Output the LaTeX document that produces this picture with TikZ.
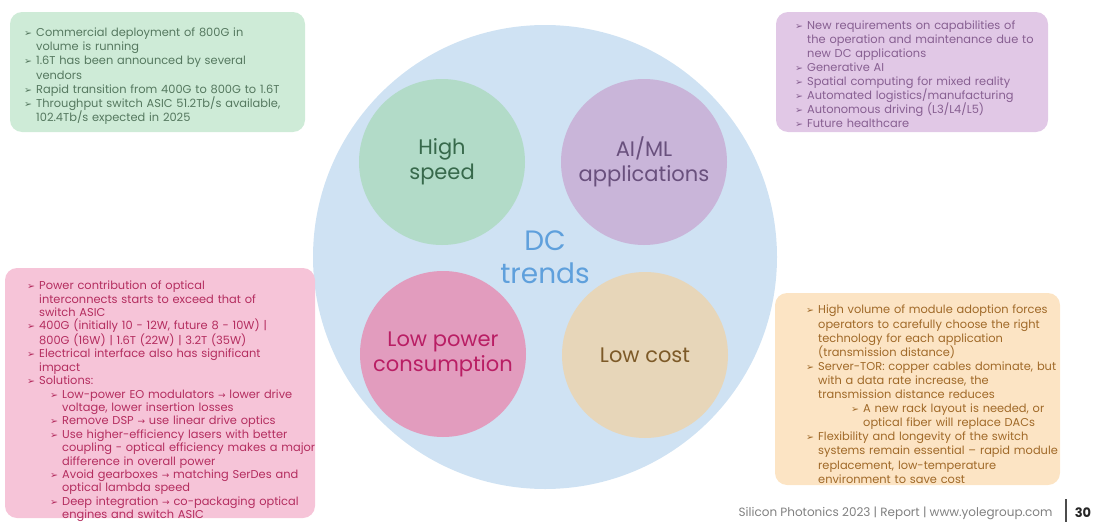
\documentclass[tikz,border=0pt]{standalone}
\usepackage{fontspec}
\setmainfont{Poppins}
\newfontfamily\symf{DejaVu Sans}

\definecolor{dcblue}{RGB}{207,226,243}
\definecolor{dctext}{RGB}{95,160,220}
\definecolor{spdfill}{RGB}{178,219,200}
\definecolor{spdtext}{RGB}{55,105,75}
\definecolor{aifill}{RGB}{201,181,217}
\definecolor{aitext}{RGB}{105,80,125}
\definecolor{pwrfill}{RGB}{226,156,190}
\definecolor{pwrtext}{RGB}{185,30,100}
\definecolor{costfill}{RGB}{231,214,185}
\definecolor{costtext}{RGB}{125,90,40}
\definecolor{spdbox}{RGB}{206,235,215}
\definecolor{spdboxtext}{RGB}{85,120,95}
\definecolor{aibox}{RGB}{225,200,230}
\definecolor{aiboxtext}{RGB}{135,95,145}
\definecolor{pwrbox}{RGB}{246,196,216}
\definecolor{pwrboxtext}{RGB}{180,45,95}
\definecolor{costbox}{RGB}{252,228,196}
\definecolor{costboxtext}{RGB}{160,105,40}

\newcommand\arr{{\symf\fontsize{9}{9}\selectfont →}}
\newcommand\bul[1]{\par\hangindent=12pt\hangafter=1\noindent
  \makebox[12pt][l]{\symf\fontsize{9.5}{9.5}\selectfont ➢}#1}
\newcommand\subbul[2]{\par\hangindent=#1\hangafter=0\noindent\hskip-12pt
  \makebox[12pt][l]{\symf\fontsize{9.5}{9.5}\selectfont ➢}#2}

\tikzset{
  trend/.style={circle, inner sep=0pt, minimum size=166pt, align=center,
    font=\fontsize{21}{25}\selectfont},
  infobox/.style={rounded corners=12pt, inner sep=0pt},
  infotext/.style={anchor=west, inner sep=0pt, text width=330pt, align=left,
    font=\fontsize{11.4}{14.1}\selectfont},
}

\begin{document}
\begin{tikzpicture}[x=1pt,y=-1pt]
  \useasboundingbox (0,0) rectangle (1093,522);

  \node[circle, fill=dcblue, minimum size=464pt, align=center, text=dctext,
    font=\fontsize{28}{33}\selectfont] (dc) at (545,257) {DC\\trends};

  \node[trend, fill=spdfill, text=spdtext] (speed) at (442,162) {High\\speed};
  \node[trend, fill=aifill, text=aitext] (aiml) at (644,162) {AI/ML\\applications};
  \node[trend, fill=pwrfill, text=pwrtext] (power) at (443,354) {Low power\\consumption};
  \node[trend, fill=costfill, text=costtext] (cost) at (645,355) {Low cost};

  \node[infobox, fill=spdbox, minimum width=295pt, minimum height=120pt] (speedbox) at (157.5,72) {};
  \node[infotext, text=spdboxtext] (speedtxt) at (24,73.5) {%
    \bul{Commercial deployment of 800G in\break volume is running}
    \bul{1.6T has been announced by several\break vendors}
    \bul{Rapid transition from 400G to 800G to 1.6T}
    \bul{Throughput switch ASIC 51.2Tb/s available,\break 102.4Tb/s expected in 2025}\par};

  \node[infobox, fill=aibox, minimum width=272pt, minimum height=120pt] (aimlbox) at (912,72) {};
  \node[infotext, text=aiboxtext] (aimltxt) at (795,71.5) {%
    \bul{New requirements on capabilities of\break the operation and maintenance due to\break new DC applications}
    \bul{Generative AI}
    \bul{Spatial computing for mixed reality}
    \bul{Automated logistics/manufacturing}
    \bul{Autonomous driving (L3/L4/L5)}
    \bul{Future healthcare}\par};

  \node[infobox, fill=pwrbox, minimum width=310pt, minimum height=250pt] (powerbox) at (160,393) {};
  \node[infotext, text=pwrboxtext, font=\fontsize{11.4}{13.4}\selectfont] (powertxt) at (27,399) {%
    \bul{Power contribution of optical\break interconnects starts to exceed that of\break switch ASIC}
    \bul{400G (initially 10 - 12W, future 8 - 10W) |\break 800G (16W) | 1.6T (22W) | 3.2T (35W)}
    \bul{Electrical interface also has significant\break impact}
    \bul{Solutions:}
    \subbul{35pt}{Low-power EO modulators \arr\ lower drive\break voltage, lower insertion losses}
    \subbul{35pt}{Remove DSP \arr\ use linear drive optics}
    \subbul{35pt}{Use higher-efficiency lasers with better\break coupling - optical efficiency makes a major\break difference in overall power}
    \subbul{35pt}{Avoid gearboxes \arr\ matching SerDes and\break optical lambda speed}
    \subbul{35pt}{Deep integration \arr\ co-packaging optical\break engines and switch ASIC}\par};

  \node[infobox, fill=costbox, minimum width=285pt, minimum height=192pt] (costbox) at (917.5,389) {};
  \node[infotext, text=costboxtext] (costtxt) at (806,391.5) {%
    \bul{High volume of module adoption forces\break operators to carefully choose the right\break technology for each application\break (transmission distance)}
    \bul{Server-TOR: copper cables dominate, but\break with a data rate increase, the\break transmission distance reduces}
    \subbul{57pt}{A new rack layout is needed, or\break optical fiber will replace DACs}
    \bul{Flexibility and longevity of the switch\break systems remain essential – rapid module\break replacement, low-temperature\break environment to save cost}\par};

  \node[anchor=east, text=black!50, font=\fontsize{12}{12}\selectfont] (footer) at (1056,513)
    {Silicon Photonics 2023 | Report | www.yolegroup.com};
  \coordinate (bartop) at (1066,499);
  \coordinate (barbot) at (1066,522);
  \draw[black!70, line width=1.2pt] (bartop) -- (barbot);
  \node[text=black!85, font=\fontsize{13}{13}\bfseries\selectfont] (page) at (1083,513) {30};
\end{tikzpicture}
\end{document}
